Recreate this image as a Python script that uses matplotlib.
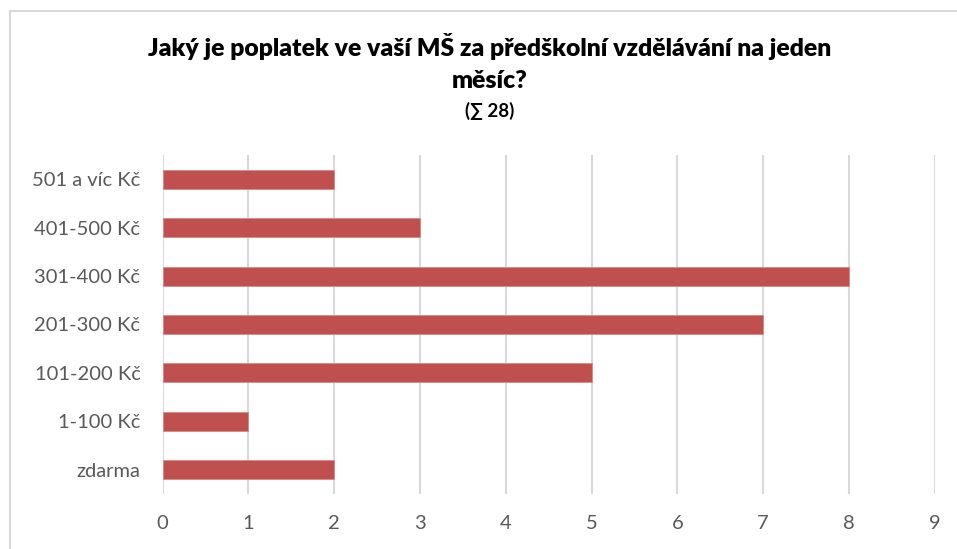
import matplotlib.pyplot as plt
from matplotlib.lines import Line2D

plt.rcParams['font.family'] = ['Lato', 'DejaVu Sans']

categories = ['zdarma', '1-100 Kč', '101-200 Kč', '201-300 Kč',
              '301-400 Kč', '401-500 Kč', '501 a víc Kč']
counts = [2, 1, 5, 7, 8, 3, 2]
x_ticks = list(range(0, 10))

fig = plt.figure(figsize=(9.57, 5.49), dpi=100)
ax = fig.add_axes([0.170, 0.1002, 0.8067, 0.6175])

ax.barh(range(len(categories)), counts, height=0.39, color='#C0504D',
        edgecolor='#D58A88', linewidth=0.6, zorder=3)

ax.set_xlim(0, 9)
ax.set_ylim(-0.5, len(categories) - 0.5)
ax.set_xticks(x_ticks)
ax.set_yticks(range(len(categories)))
ax.set_yticklabels(categories)
ax.tick_params(axis='both', length=0, labelsize=14.5, colors='#595959')
ax.tick_params(axis='x', pad=15)
ax.tick_params(axis='y', pad=16)
ax.grid(axis='x', color='#D9D9D9', linewidth=1.5, zorder=0)
for s in ax.spines.values():
    s.set_visible(False)

# chart frame (top and left edges visible)
fig.add_artist(Line2D([9.5 / 957, 1], [1 - 10.5 / 549] * 2, color='#D9D9D9', linewidth=1.5))
fig.add_artist(Line2D([9.5 / 957] * 2, [0, 1 - 10.5 / 549], color='#D9D9D9', linewidth=1.5))

fig.text(0.512, 1 - 47 / 549, 'Jaký je poplatek ve vaší MŠ za předškolní vzdělávání na jeden',
         ha='center', va='center', fontsize=17.8, fontweight='heavy', color='#000000')
fig.text(0.512, 1 - 81 / 549, 'měsíc?',
         ha='center', va='center', fontsize=17.8, fontweight='heavy', color='#000000')
fig.text(0.512, 1 - 111 / 549, '(∑ 28)',
         ha='center', va='center', fontsize=13.5, fontweight='bold', color='#000000')

fig.savefig('out.png', dpi=100)
